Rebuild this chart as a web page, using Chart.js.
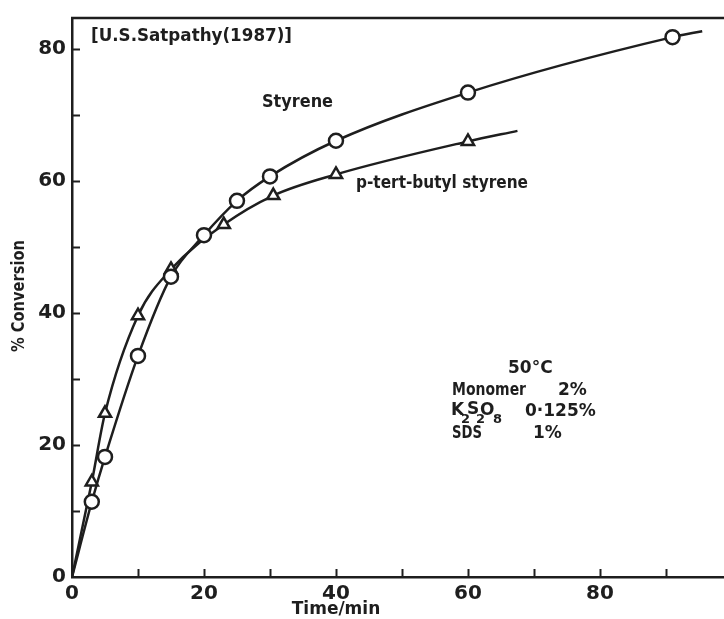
<!DOCTYPE html>
<html><head><meta charset="utf-8">
<script src="https://cdn.jsdelivr.net/npm/chart.js@4/dist/chart.umd.min.js"></script>
<style>html,body{margin:0;padding:0;background:#fff;overflow:hidden}#wrap{width:724px;height:619px}</style>
</head><body><div id="wrap"><canvas id="c" width="724" height="619"></canvas></div>
<script>
// ---- data ----
const styreneTime = [0, 3, 5, 10, 15, 20, 25, 30, 40, 60, 91, 95.5];
const styreneConv = [0, 11.4, 18.2, 33.5, 45.5, 51.8, 57, 60.7, 66.1, 73.4, 81.8, 82.7];
const butylTime = [0, 3, 5, 10, 15, 23, 30.5, 40, 60, 67.5];
const butylConv = [0, 14.4, 24.8, 39.6, 46.6, 53.4, 57.8, 61, 66, 67.6];
const xTickValues = [0, 20, 40, 60, 80];
const yTickValues = [0, 20, 40, 60, 80];
const minorStep = 10;

const INK = '#1e1e1e';
const FONT = '"DejaVu Sans", "Liberation Sans", sans-serif';

function toPoints(xs, ys) { return xs.map((x, i) => ({x: x, y: ys[i]})); }
function markerRadius(r) {
  return ctx => {
    const n = ctx.dataset.data.length;
    return (ctx.dataIndex === 0 || ctx.dataIndex === n - 1) ? 0 : r;
  };
}

const inwardTicks = {
  id: 'inwardTicks',
  afterDraw(chart) {
    const {ctx, chartArea: a, scales: {x, y}} = chart;
    ctx.save();
    ctx.strokeStyle = INK; ctx.lineWidth = 2;
    for (let v = minorStep; v <= x.max; v += minorStep) {
      const px = Math.round(x.getPixelForValue(v)) + 0.5;
      ctx.beginPath(); ctx.moveTo(px, a.bottom); ctx.lineTo(px, a.bottom - 8); ctx.stroke();
    }
    for (let v = minorStep; v <= y.max; v += minorStep) {
      const py = Math.round(y.getPixelForValue(v)) + 0.5;
      ctx.beginPath(); ctx.moveTo(a.left, py); ctx.lineTo(a.left + 8, py); ctx.stroke();
    }
    ctx.lineWidth = 2.5;
    ctx.beginPath(); ctx.moveTo(a.left - 1, a.top); ctx.lineTo(a.right, a.top); ctx.stroke();
    ctx.restore();
  }
};

function txt(ctx, s, x, y, size, w, align) {
  ctx.font = 'bold ' + size + 'px ' + FONT;
  ctx.textAlign = align || 'left';
  ctx.textBaseline = 'middle';
  if (w) ctx.fillText(s, x, y, w); else ctx.fillText(s, x, y);
}

const annotations = {
  id: 'annotations',
  afterDraw(chart) {
    const ctx = chart.ctx;
    ctx.save();
    ctx.fillStyle = INK;
    txt(ctx, '[U.S.Satpathy(1987)]', 91, 37, 17, 201);
    txt(ctx, 'Styrene', 262, 103, 17, 71);
    txt(ctx, 'p-tert-butyl styrene', 356, 184, 17, 172);
    txt(ctx, '50°C', 508, 369, 17, 53);
    txt(ctx, 'Monomer', 452, 391, 17, 74);
    txt(ctx, '2%', 558, 391, 17, 45);
    txt(ctx, 'K', 451, 411, 17);
    txt(ctx, '2', 461, 420, 13);
    txt(ctx, 'S', 467, 410, 17);
    txt(ctx, '2', 476, 420, 13);
    txt(ctx, 'O', 480, 411, 17);
    txt(ctx, '8', 493, 420, 13);
    txt(ctx, '0·125%', 525, 412, 17, 92);
    txt(ctx, 'SDS', 452, 434, 17, 30);
    txt(ctx, '1%', 533, 434, 17, 32);
    txt(ctx, 'Time/min', 336, 610, 17, 92, 'center');
    ctx.save();
    ctx.translate(20, 296); ctx.rotate(-Math.PI / 2);
    txt(ctx, '% Conversion', 0, 0, 17, 112, 'center');
    ctx.restore();
    ctx.restore();
  }
};

new Chart(document.getElementById('c'), {
  type: 'scatter',
  data: {
    datasets: [
      {
        label: 'Styrene',
        data: toPoints(styreneTime, styreneConv),
        showLine: true,
        borderColor: INK, borderWidth: 2.5,
        backgroundColor: '#fff',
        pointStyle: 'circle',
        pointRadius: markerRadius(7),
        pointBorderWidth: 2.5,
        pointBorderColor: INK,
        pointBackgroundColor: '#fff',
        cubicInterpolationMode: 'monotone',
        order: 1
      },
      {
        label: 'p-tert-butyl styrene',
        data: toPoints(butylTime, butylConv),
        showLine: true,
        borderColor: INK, borderWidth: 2.5,
        backgroundColor: '#fff',
        pointStyle: 'triangle',
        pointRadius: markerRadius(7),
        pointBorderWidth: 2.5,
        pointBorderColor: INK,
        pointBackgroundColor: '#fff',
        cubicInterpolationMode: 'monotone',
        order: 2
      }
    ]
  },
  options: {
    responsive: false,
    animation: false,
    devicePixelRatio: 1,
    layout: {padding: {top: 14, right: 0, left: 0, bottom: 0}},
    plugins: {legend: {display: false}, tooltip: {enabled: false}},
    scales: {
      x: {
        type: 'linear', min: 0, max: 98.8,
        afterBuildTicks: s => { s.ticks = xTickValues.map(v => ({value: v})); },
        afterFit: s => { s.height = 42; },
        grid: {display: false, drawTicks: false},
        border: {display: true, color: INK, width: 2.5},
        ticks: {color: INK, font: {family: FONT, size: 20, weight: 'bold'}, padding: 5, maxRotation: 0}
      },
      y: {
        type: 'linear', min: 0, max: 84.7,
        afterBuildTicks: s => { s.ticks = yTickValues.map(v => ({value: v})); },
        afterFit: s => { s.width = 72; },
        grid: {display: false, drawTicks: false},
        border: {display: true, color: INK, width: 2.5},
        ticks: {color: INK, font: {family: FONT, size: 20, weight: 'bold'}, padding: 6}
      }
    }
  },
  plugins: [inwardTicks, annotations]
});
</script>
</body></html>
